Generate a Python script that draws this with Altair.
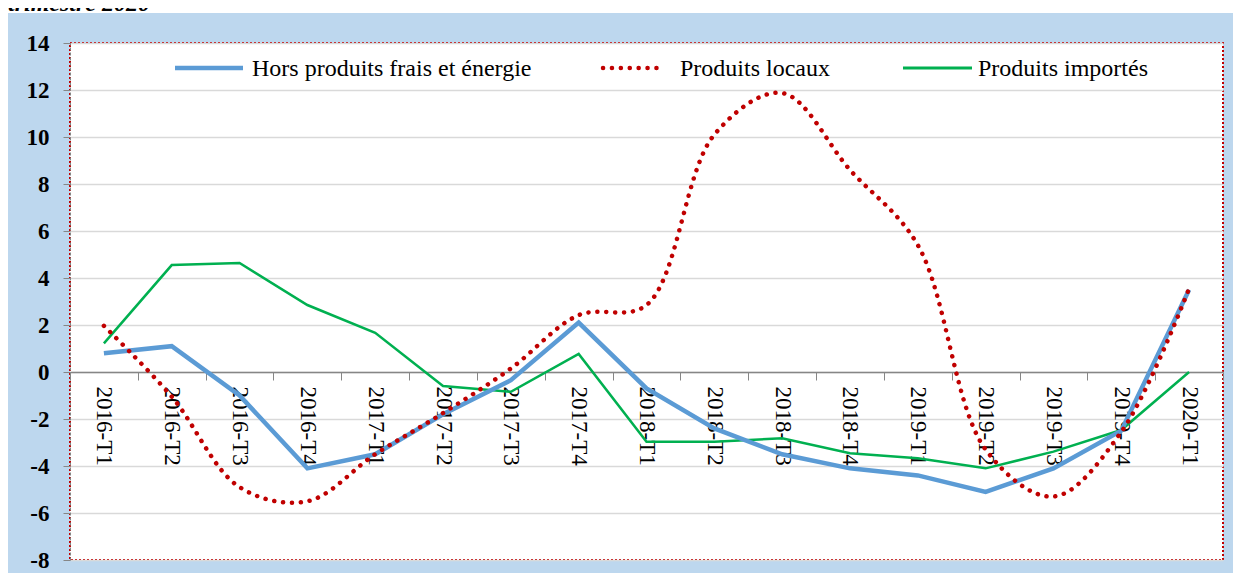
import altair as alt
import pandas as pd

TITLE = "trimestre 2020"
quarters = ["2016-T1", "2016-T2", "2016-T3", "2016-T4", "2017-T1", "2017-T2", "2017-T3", "2017-T4",
            "2018-T1", "2018-T2", "2018-T3", "2018-T4", "2019-T1", "2019-T2", "2019-T3", "2019-T4", "2020-T1"]
series_names = ["Hors produits frais et énergie", "Produits locaux", "Produits importés"]
hors_pfe = [0.8, 1.1, -1.0, -4.1, -3.5, -1.8, -0.35, 2.1, -0.7, -2.4, -3.5, -4.1, -4.4, -5.1, -4.1, -2.5, 3.5]
locaux = [1.96, -1.05, -4.9, -5.5, -3.5, -1.75, 0.15, 2.42, 2.85, 10.1, 11.87, 8.6, 5.4, -3.3, -5.3, -2.55, 3.55]
importes = [1.22, 4.55, 4.64, 2.85, 1.67, -0.6, -0.84, 0.77, -2.97, -2.97, -2.82, -3.46, -3.67, -4.1, -3.39, -2.47, 0.0]
y_ticks = [-8, -6, -4, -2, 0, 2, 4, 6, 8, 10, 12, 14]

rows = []
for name, vals in zip(series_names, [hors_pfe, locaux, importes]):
    for q, v in zip(quarters, vals):
        rows.append({"trimestre": q, "serie": name, "valeur": v})
df = pd.DataFrame(rows)

W, H = 1153, 517
FONT = "Liberation Serif"
zero_offset = -round(H - H * 14 / 22)

base = alt.Chart(df).encode(
    x=alt.X("trimestre:N", sort=quarters, bandPosition=0.5,
            scale=alt.Scale(type="band", paddingInner=0, paddingOuter=0),
            axis=alt.Axis(title=None, orient="bottom", offset=zero_offset, labelAngle=90,
                          labelFont=FONT, labelFontSize=23, labelColor="black",
                          labelPadding=6, tickBand="extent", tickSize=8, tickColor="#868686",
                          domainColor="#868686", domainWidth=1.5, grid=False)),
    y=alt.Y("valeur:Q", scale=alt.Scale(domain=[-8, 14], nice=False, zero=False),
            axis=alt.Axis(title=None, values=y_ticks, labelExpr="datum.value + ''",
                          labelFont=FONT, labelFontSize=23, labelFontWeight="bold",
                          labelColor="black", labelPadding=14, tickSize=7, tickColor="#868686",
                          domainColor="#868686", domainDash=[3, 2], grid=True,
                          gridColor="#D9D9D9", gridWidth=1.5)),
)

green = base.transform_filter(alt.datum.serie == series_names[2]).mark_line(
    color="#00B050", strokeWidth=2.5)
blue = base.transform_filter(alt.datum.serie == series_names[0]).mark_line(
    color="#5B9BD5", strokeWidth=4.5)
red = base.transform_filter(alt.datum.serie == series_names[1]).mark_line(
    color="#C00000", strokeWidth=4.5, strokeDash=[0.1, 8.8], strokeCap="round",
    interpolate="catmull-rom")

# manual legend
leg_specs = [
    (series_names[0], 105, 173, 182, dict(color="#5B9BD5", strokeWidth=4.5)),
    (series_names[1], 533, 595, 610, dict(color="#C00000", strokeWidth=4.5, strokeDash=[0.1, 8.8], strokeCap="round")),
    (series_names[2], 833, 902, 908, dict(color="#00B050", strokeWidth=3)),
]
legend_layers = []
for name, x1, x2, xt, style in leg_specs:
    d = pd.DataFrame({"serie": [name]})
    legend_layers.append(alt.Chart(d).mark_rule(**style).encode(
        x=alt.value(x1), x2=alt.value(x2), y=alt.value(25)))
    legend_layers.append(alt.Chart(d).mark_text(
        font=FONT, fontSize=24, color="black", align="left", baseline="middle").encode(
        text="serie:N", x=alt.value(xt), y=alt.value(26)))

strip = alt.Chart(pd.DataFrame({"t": [TITLE]})).mark_rect(color="white").encode(
    x=alt.value(-62), x2=alt.value(W + 10), y=alt.value(-35), y2=alt.value(-30))
title = alt.Chart(pd.DataFrame({"t": [TITLE]})).mark_text(
    font=FONT, fontSize=24, fontWeight="bold", fontStyle="italic", color="black",
    align="left", baseline="alphabetic").encode(text="t:N", x=alt.value(-62), y=alt.value(-32))

chart = alt.layer(strip, title, green, blue, red, *legend_layers).properties(
    width=W, height=H,
    autosize=alt.AutoSizeParams(type="none"),
    padding={"left": 62, "top": 35, "right": 10, "bottom": 13},
).configure(background="#BDD7EE", font=FONT).configure_axis(
    labelFont=FONT, titleFont=FONT
).configure_view(
    fill="white", stroke="#C00000", strokeDash=[2, 2], strokeWidth=2)

chart.save("out.html", embed_options={"renderer": "svg", "actions": False})
